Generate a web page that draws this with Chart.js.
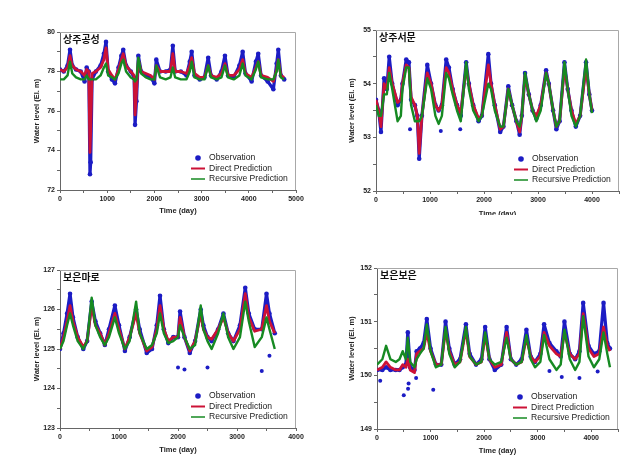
<!DOCTYPE html>
<html>
<head>
<meta charset="utf-8">
<script src="https://cdn.jsdelivr.net/npm/chart.js@4.4.0/dist/chart.umd.min.js"></script>
<style>
body { margin: 0; background: #fff; }
.panel { position: absolute; overflow: hidden; }
canvas { display: block; }
</style>
</head>
<body>
<div class="panel" style="left:0;top:0;width:320px;height:215px"><canvas id="c1" width="320" height="215"></canvas></div>
<div class="panel" style="left:320px;top:0;width:319px;height:215px"><canvas id="c2" width="319" height="220"></canvas></div>
<div class="panel" style="left:0;top:235px;width:320px;height:239px"><canvas id="c3" width="320" height="239"></canvas></div>
<div class="panel" style="left:320px;top:235px;width:319px;height:239px"><canvas id="c4" width="319" height="239"></canvas></div>
<script>
// ---- 상주공성 ----
const p1Days = [0, 80, 160, 212, 260, 340, 440, 520, 565, 610, 635, 650, 680, 760, 860, 930, 975, 1020, 1100, 1165,
  1240, 1300, 1340, 1400, 1500, 1570, 1590, 1620, 1660, 1720, 1820, 1920, 2000, 2040, 2120, 2240, 2340, 2390, 2440, 2560,
  2680, 2750, 2790, 2850, 2960, 3060, 3140, 3200, 3320, 3420, 3495, 3560, 3680, 3800, 3870, 3930, 4060, 4150, 4200, 4260,
  4400, 4520, 4590, 4625, 4680, 4750];
const p1Obs = [78.1, 78.0, 78.3, 79.1, 78.3, 78.1, 78.0, 77.5, 78.2, 78.0, 72.8, 73.4, 77.6, 78.0, 78.3, 78.9, 79.5, 78.0, 77.6, 77.4,
  78.2, 78.8, 79.1, 78.3, 78.0, 77.7, 75.3, 76.5, 78.8, 78.0, 77.8, 77.7, 77.4, 78.6, 78.0, 78.0, 78.1, 79.3, 78.0, 78.0,
  77.8, 78.5, 79.0, 77.8, 77.6, 77.7, 78.7, 77.8, 77.6, 78.0, 78.8, 77.8, 77.7, 78.3, 79.0, 77.9, 77.5, 78.5, 78.9, 77.8,
  77.5, 77.1, 78.4, 79.1, 77.8, 77.6];
const p1Direct = [78.1, 78.0, 78.2, 78.8, 78.3, 78.1, 78.0, 77.8, 78.1, 78.0, 73.9, 75.0, 77.9, 78.0, 78.2, 78.6, 79.2, 78.1, 77.8, 77.6,
  78.1, 78.6, 78.9, 78.3, 78.0, 77.8, 75.8, 77.0, 78.6, 78.0, 77.9, 77.8, 77.6, 78.3, 78.0, 78.0, 78.0, 78.9, 78.0, 78.0,
  77.9, 78.3, 78.7, 77.9, 77.7, 77.7, 78.3, 77.8, 77.7, 77.9, 78.4, 77.8, 77.8, 78.1, 78.6, 77.9, 77.7, 78.2, 78.5, 77.8,
  77.7, 77.5, 78.1, 78.6, 77.8, 77.7];
const p1Recursive = [77.6, 77.6, 77.8, 78.5, 77.9, 77.7, 77.6, 77.6, 77.8, 77.6, 77.6, 77.6, 77.6, 77.6, 77.8, 78.2, 78.4, 77.8, 77.7, 77.6,
  77.9, 78.4, 78.6, 78.0, 77.7, 77.6, 77.5, 77.6, 78.7, 77.9, 77.7, 77.6, 77.6, 78.3, 77.7, 77.6, 77.7, 78.2, 77.7, 77.6,
  77.6, 78.0, 78.5, 77.7, 77.6, 77.6, 78.3, 77.7, 77.6, 77.7, 78.3, 77.7, 77.6, 77.8, 78.4, 77.8, 77.6, 78.1, 78.5, 77.7,
  77.6, 77.6, 78.0, 78.6, 77.7, 77.6];
const p1OutDays = [];
const p1OutVals = [];

// ---- 상주서문 ----
const p2Days = [0, 50, 92, 150, 200, 245, 300, 400, 460, 490, 560, 610, 650, 720, 765, 800, 850, 950, 1020, 1100,
  1160, 1220, 1300, 1350, 1420, 1500, 1570, 1670, 1720, 1800, 1900, 1960, 2080, 2130, 2200, 2300, 2360, 2450, 2520, 2600,
  2660, 2700, 2760, 2830, 2900, 2970, 3050, 3150, 3200, 3280, 3340, 3400, 3490, 3550, 3620, 3700, 3780, 3890, 3950, 4000];
const p2Obs = [53.7, 53.5, 53.1, 54.1, 53.9, 54.5, 54.0, 53.6, 53.7, 54.0, 54.45, 54.4, 53.7, 53.6, 53.4, 52.6, 53.4, 54.35, 54.0, 53.6,
  53.5, 53.6, 54.45, 54.3, 53.9, 53.6, 53.4, 54.4, 54.0, 53.6, 53.3, 53.4, 54.55, 54.0, 53.6, 53.1, 53.2, 53.95, 53.6, 53.3,
  53.05, 53.4, 54.2, 53.8, 53.5, 53.35, 53.6, 54.25, 54.0, 53.5, 53.15, 53.3, 54.4, 53.9, 53.5, 53.2, 53.4, 54.4, 53.8, 53.5];
const p2Direct = [53.7, 53.5, 53.2, 54.0, 53.9, 54.3, 54.0, 53.65, 53.7, 54.0, 54.35, 54.3, 53.75, 53.6, 53.4, 52.7, 53.4, 54.2, 54.0, 53.6,
  53.5, 53.6, 54.3, 54.2, 53.9, 53.6, 53.45, 54.3, 54.0, 53.6, 53.35, 53.4, 54.35, 54.0, 53.6, 53.15, 53.2, 53.9, 53.6, 53.3,
  53.1, 53.4, 54.15, 53.8, 53.5, 53.4, 53.6, 54.2, 54.0, 53.5, 53.2, 53.3, 54.3, 53.9, 53.5, 53.25, 53.4, 54.3, 53.8, 53.5];
const p2Recursive = [53.6, 53.4, 53.4, 53.8, 53.8, 54.2, 53.9, 53.3, 53.4, 53.9, 54.3, 54.3, 53.6, 53.3, 53.3, 53.3, 53.4, 54.1, 53.9, 53.4,
  53.25, 53.4, 54.2, 54.1, 53.8, 53.5, 53.3, 54.4, 53.9, 53.5, 53.3, 53.4, 54.0, 53.9, 53.5, 53.2, 53.2, 53.9, 53.6, 53.3,
  53.2, 53.4, 54.2, 53.8, 53.5, 53.3, 53.5, 54.2, 54.0, 53.5, 53.2, 53.3, 54.4, 53.9, 53.4, 53.2, 53.4, 54.45, 53.8, 53.45];
const p2OutDays = [630, 1200, 1560];
const p2OutVals = [53.15, 53.12, 53.15];

// ---- 보은마로 ----
const p3Days = [0, 60, 120, 170, 220, 300, 395, 460, 537, 600, 680, 760, 830, 930, 1000, 1100, 1180, 1290, 1350, 1470,
  1560, 1640, 1695, 1760, 1835, 1920, 2000, 2035, 2110, 2200, 2290, 2385, 2430, 2500, 2570, 2680, 2770, 2850, 2940, 3050,
  3140, 3200, 3300, 3420, 3500, 3550, 3640];
const p3Obs = [125.0, 125.4, 125.9, 126.4, 125.8, 125.3, 125.0, 125.2, 126.2, 125.7, 125.4, 125.1, 125.5, 126.1, 125.6, 124.95, 125.3, 126.0, 125.5, 124.9,
  125.0, 125.6, 126.35, 125.5, 125.15, 125.3, 125.3, 125.95, 125.3, 124.9, 125.2, 126.0, 125.6, 125.3, 125.2, 125.5, 125.9, 125.4, 125.2, 125.6,
  126.55, 125.9, 125.5, 125.5, 126.4, 125.9, 125.4];
const p3Direct = [125.0, 125.3, 125.7, 126.1, 125.7, 125.3, 125.05, 125.2, 126.1, 125.6, 125.4, 125.1, 125.4, 125.9, 125.5, 125.0, 125.3, 125.9, 125.4, 124.95,
  125.05, 125.5, 126.1, 125.5, 125.2, 125.3, 125.3, 125.8, 125.3, 124.95, 125.2, 125.9, 125.5, 125.3, 125.25, 125.5, 125.8, 125.4, 125.2, 125.5,
  126.4, 125.8, 125.45, 125.5, 126.1, 125.7, 125.4];
const p3Recursive = [125.0, 125.2, 125.6, 125.9, 125.6, 125.2, 125.0, 125.2, 126.3, 125.6, 125.3, 125.1, 125.3, 125.8, 125.4, 125.0, 125.2, 126.2, 125.4, 125.0,
  125.1, 125.4, 125.9, 125.4, 125.15, 125.2, 125.3, 125.6, 125.3, 125.0, 125.1, 126.1, 125.5, 125.2, 125.0, 125.4, 125.9, 125.3, 125.0, 125.3,
  126.2, 125.7, 125.05, 125.3, 125.8, 125.5, 125.0];
const p3OutDays = [2000, 2110, 2500, 3420, 3550];
const p3OutVals = [124.53, 124.48, 124.53, 124.44, 124.83];

// ---- 보은보은 ----
const p4Days = [0, 100, 170, 250, 350, 420, 480, 540, 575, 620, 700, 740, 800, 870, 930, 1000, 1100, 1200, 1280, 1350,
  1450, 1550, 1660, 1730, 1850, 1950, 2020, 2100, 2200, 2320, 2420, 2500, 2600, 2700, 2790, 2870, 2950, 3050, 3120, 3220,
  3350, 3430, 3500, 3600, 3700, 3780, 3850, 3950, 4050, 4150, 4230, 4300, 4350];
const p4Obs = [150.1, 150.1, 150.15, 150.1, 150.1, 150.1, 150.15, 150.2, 150.8, 150.15, 150.1, 150.45, 150.5, 150.6, 151.05, 150.5, 150.2, 150.2, 151.0, 150.5,
  150.2, 150.3, 150.95, 150.4, 150.2, 150.3, 150.9, 150.3, 150.1, 150.2, 150.9, 150.3, 150.2, 150.3, 150.85, 150.35, 150.25, 150.4, 150.95, 150.6,
  150.45, 150.35, 151.0, 150.4, 150.3, 150.45, 151.35, 150.55, 150.4, 150.45, 151.35, 150.6, 150.5];
const p4Direct = [150.1, 150.15, 150.25, 150.15, 150.1, 150.1, 150.2, 150.15, 150.3, 150.1, 150.05, 150.4, 150.45, 150.5, 150.8, 150.45, 150.2, 150.2, 150.85, 150.45,
  150.2, 150.25, 150.85, 150.35, 150.2, 150.25, 150.75, 150.3, 150.15, 150.2, 150.8, 150.3, 150.2, 150.25, 150.7, 150.35, 150.25, 150.35, 150.8, 150.55,
  150.4, 150.35, 150.8, 150.4, 150.3, 150.4, 151.15, 150.5, 150.35, 150.4, 150.9, 150.55, 150.45];
const p4Recursive = [150.2, 150.3, 150.55, 150.3, 150.25, 150.3, 150.45, 150.3, 150.7, 150.25, 150.15, 150.3, 150.4, 150.5, 150.95, 150.45, 150.15, 150.2, 150.9, 150.4,
  150.15, 150.25, 150.9, 150.35, 150.2, 150.25, 150.8, 150.3, 150.2, 150.25, 150.7, 150.3, 150.2, 150.25, 150.75, 150.3, 150.15, 150.25, 150.75, 150.3,
  150.1, 150.2, 150.85, 150.3, 150.1, 150.25, 151.1, 150.35, 150.15, 150.3, 150.8, 150.4, 150.15];
const p4OutDays = [60, 500, 580, 590, 730, 1050, 3220, 3450, 3780, 4120];
const p4OutVals = [149.9, 149.63, 149.75, 149.85, 149.95, 149.73, 150.08, 149.97, 149.95, 150.07];

const seriesNames = ['Observation', 'Direct Prediction', 'Recursive Prediction'];
const OBS_COLOR = '#1c1cc4';
const DIRECT_COLOR = '#cc1236';
const REC_COLOR = '#168a22';
const FONT = '"Liberation Sans", Arial, sans-serif';

const pts = (xs, ys) => xs.map((x, i) => ({ x, y: ys[i] }));

// frame, station name and in-plot legend
const panelDecor = {
    id: 'panelDecor',
    afterDatasetsDraw(chart, args, opts) {
        const { ctx, chartArea: a } = chart;
        ctx.save();
        ctx.strokeStyle = '#a8a8a8';
        ctx.lineWidth = 1;
        ctx.beginPath();
        ctx.moveTo(a.left, a.top + 0.5);
        ctx.lineTo(a.right - 0.5, a.top + 0.5);
        ctx.lineTo(a.right - 0.5, a.bottom);
        ctx.stroke();

        ctx.fillStyle = '#111';
        ctx.textBaseline = 'middle';
        ctx.font = 'bold 10px "Noto Sans CJK KR"';
        ctx.fillText(opts.name, a.left + 3, a.top + 7);

        const tx = a.right - 87;
        const rows = [a.bottom - 32, a.bottom - 21.5, a.bottom - 11];
        ctx.font = '8.6px ' + FONT;
        ctx.fillStyle = '#222';
        seriesNames.forEach((n, i) => ctx.fillText(n, tx, rows[i]));
        ctx.fillStyle = OBS_COLOR;
        ctx.beginPath();
        ctx.arc(tx - 11, rows[0], 2.8, 0, Math.PI * 2);
        ctx.fill();
        ctx.lineWidth = 2;
        ctx.strokeStyle = DIRECT_COLOR;
        ctx.beginPath(); ctx.moveTo(tx - 18, rows[1]); ctx.lineTo(tx - 4, rows[1]); ctx.stroke();
        ctx.lineWidth = 1.5;
        ctx.strokeStyle = REC_COLOR;
        ctx.beginPath(); ctx.moveTo(tx - 18, rows[2]); ctx.lineTo(tx - 4, rows[2]); ctx.stroke();
        ctx.restore();
    }
};

function makePanel(id, p) {
    const tickFont = { family: FONT, size: 7, weight: 'bold' };
    const titleFont = { family: FONT, size: 7.5, weight: 'bold' };
    return new Chart(document.getElementById(id), {
        type: 'scatter',
        data: {
            datasets: [
                {
                    data: pts(p.days, p.obs), showLine: true, borderColor: OBS_COLOR, borderWidth: 3.2,
                    borderJoinStyle: 'round',
                    pointRadius: 2.3, pointBackgroundColor: OBS_COLOR, pointBorderWidth: 0, order: 3
                },
                {
                    data: pts(p.outDays, p.outVals), showLine: false,
                    pointRadius: 2, pointBackgroundColor: OBS_COLOR, pointBorderWidth: 0, order: 4
                },
                {
                    data: pts(p.days, p.direct), showLine: true, borderColor: DIRECT_COLOR, borderWidth: 2.8,
                    borderJoinStyle: 'round', pointRadius: 0, order: 2
                },
                {
                    data: pts(p.days, p.recursive), showLine: true, borderColor: REC_COLOR, borderWidth: 2.4,
                    borderJoinStyle: 'round', pointRadius: 0, order: 1
                }
            ]
        },
        options: {
            responsive: false,
            animation: false,
            events: [],
            layout: { padding: p.pad },
            plugins: { legend: { display: false }, tooltip: { enabled: false }, panelDecor: { name: p.name } },
            scales: {
                x: {
                    type: 'linear', min: 0, max: p.xMax,
                    afterFit: s => { s.height = p.xHeight; },
                    border: { color: '#666' },
                    grid: { drawOnChartArea: false, tickLength: 3, color: '#666' },
                    ticks: {
                        stepSize: 500, autoSkip: false, maxRotation: 0, padding: 2,
                        font: tickFont, color: '#222',
                        callback: v => (v % 1000 === 0 ? v : '')
                    },
                    title: { display: true, text: 'Time (day)', font: titleFont, color: '#222', padding: 0 }
                },
                y: {
                    min: p.yMin, max: p.yMax,
                    afterFit: s => { s.width = p.yWidth; },
                    border: { color: '#666' },
                    grid: { drawOnChartArea: false, tickLength: 3, color: '#666' },
                    ticks: {
                        stepSize: p.yStep, autoSkip: false, padding: 2,
                        font: tickFont, color: '#222',
                        callback: v => (Math.abs(v % p.yLabelStep) < 1e-6 ? v : '')
                    },
                    title: { display: true, text: 'Water level (El. m)', font: titleFont, color: '#222', padding: 0 }
                }
            }
        },
        plugins: [panelDecor]
    });
}

makePanel('c1', {
    name: '상주공성', days: p1Days, obs: p1Obs, direct: p1Direct, recursive: p1Recursive,
    outDays: p1OutDays, outVals: p1OutVals,
    xMax: 5000, yMin: 72, yMax: 80, yStep: 1, yLabelStep: 2,
    pad: { left: 32, right: 24, top: 32, bottom: 0 }, yWidth: 28, xHeight: 25
});
makePanel('c2', {
    name: '상주서문', days: p2Days, obs: p2Obs, direct: p2Direct, recursive: p2Recursive,
    outDays: p2OutDays, outVals: p2OutVals,
    xMax: 4500, yMin: 52, yMax: 55, yStep: 0.5, yLabelStep: 1,
    pad: { left: 27, right: 20, top: 30, bottom: 2 }, yWidth: 29, xHeight: 27
});
makePanel('c3', {
    name: '보은마로', days: p3Days, obs: p3Obs, direct: p3Direct, recursive: p3Recursive,
    outDays: p3OutDays, outVals: p3OutVals,
    xMax: 4000, yMin: 123, yMax: 127, yStep: 0.5, yLabelStep: 1,
    pad: { left: 32, right: 24, top: 35, bottom: 20 }, yWidth: 28, xHeight: 26
});
makePanel('c4', {
    name: '보은보은', days: p4Days, obs: p4Obs, direct: p4Direct, recursive: p4Recursive,
    outDays: p4OutDays, outVals: p4OutVals,
    xMax: 4500, yMin: 149, yMax: 152, yStep: 0.5, yLabelStep: 1,
    pad: { left: 27, right: 21, top: 33, bottom: 19 }, yWidth: 30, xHeight: 26
});
</script>
</body>
</html>
